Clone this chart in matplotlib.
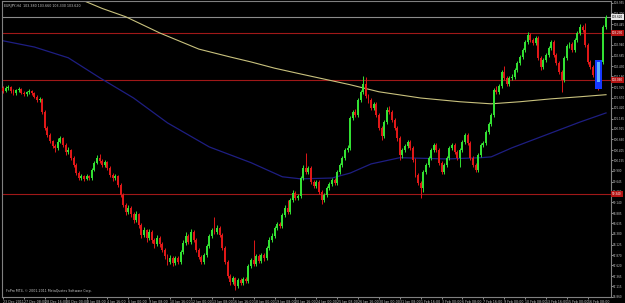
import matplotlib.pyplot as plt
from matplotlib.patches import Rectangle

symbol = "EURJPY,H4"
copyright_text = "FxPro MT4, \u00a9 2001-2011 MetaQuotes Software Corp."

# H4 bars, open of each bar = close of the one before
first_open = 101.90
closes = [
    101.83, 101.90, 101.92, 101.83, 101.78, 101.85, 101.88, 101.78, 101.75, 101.80,
    101.83, 101.78, 101.68, 101.61, 101.63, 101.32, 100.94, 100.77, 100.63, 100.51,
    100.46, 100.60, 100.70, 100.53, 100.36, 100.41, 100.22, 100.05, 99.85, 99.73,
    99.78, 99.71, 99.78, 99.73, 99.92, 100.10, 100.22, 100.15, 100.05, 100.12,
    99.97, 99.80, 99.73, 99.78, 99.56, 99.32, 99.08, 98.91, 99.01, 98.86,
    98.72, 98.86, 98.60, 98.36, 98.48, 98.29, 98.43, 98.24, 98.14, 98.29,
    98.14, 97.99, 97.85, 97.70, 97.80, 97.68, 97.80, 97.70, 97.94, 98.17,
    98.34, 98.19, 98.43, 98.24, 97.99, 97.82, 97.70, 97.87, 98.10, 98.34,
    98.48, 98.43, 98.53, 98.36, 98.05, 97.70, 97.37, 97.22, 97.32, 97.13,
    97.27, 97.20, 97.29, 97.25, 97.61, 97.75, 97.66, 97.85, 97.73, 97.87,
    97.80, 98.05, 98.24, 98.34, 98.53, 98.62, 98.58, 98.84, 99.01, 98.91,
    99.20, 99.37, 99.25, 99.30, 99.73, 99.97, 99.87, 99.97, 99.63, 99.54,
    99.63, 99.39, 99.20, 99.32, 99.49, 99.58, 99.68, 99.61, 99.87, 100.05,
    100.22, 100.41, 100.46, 101.18, 101.32, 101.25, 101.61, 101.80, 102.00, 101.71,
    101.61, 101.42, 101.52, 101.25, 100.94, 100.75, 101.08, 101.37, 101.32, 101.13,
    100.94, 100.70, 100.29, 100.41, 100.51, 100.60, 100.46, 100.17, 99.80, 99.61,
    99.49, 99.87, 100.05, 100.22, 100.41, 100.53, 100.41, 100.10, 99.87, 100.05,
    100.22, 100.46, 100.53, 100.36, 100.22, 100.41, 100.60, 100.77, 100.58, 100.22,
    100.05, 99.92, 100.29, 100.53, 100.58, 100.84, 101.04, 101.25, 101.85, 101.80,
    101.95, 102.29, 102.15, 102.00, 102.15, 102.17, 102.34, 102.51, 102.65, 102.82,
    103.01, 103.18, 103.06, 102.99, 103.11, 102.63, 102.41, 102.58, 102.70, 102.87,
    103.01, 102.70, 102.51, 102.29, 102.10, 102.63, 102.92, 102.97, 102.82, 103.06,
    103.23, 103.38, 103.30, 102.94, 102.53, 102.41, 102.22, 102.10, 101.95, 102.53,
    103.38, 103.62,
]
highs = [
    101.95, 101.95, 101.97, 101.95, 101.88, 101.88, 101.92, 101.90, 101.83, 101.83,
    101.88, 101.85, 101.80, 101.73, 101.68, 101.66, 101.37, 100.99, 100.82, 100.65,
    100.55, 100.70, 100.75, 100.72, 100.58, 100.48, 100.43, 100.27, 100.10, 99.90,
    99.83, 99.80, 99.83, 99.80, 99.97, 100.15, 100.29, 100.31, 100.19, 100.17,
    100.15, 100.02, 99.85, 99.83, 99.80, 99.61, 99.37, 99.13, 99.08, 99.06,
    98.91, 98.94, 98.89, 98.65, 98.55, 98.50, 98.50, 98.48, 98.29, 98.36,
    98.34, 98.19, 98.05, 97.90, 97.87, 97.85, 97.85, 97.85, 97.99, 98.24,
    98.43, 98.38, 98.50, 98.48, 98.29, 98.05, 97.87, 97.92, 98.14, 98.38,
    98.53, 98.79, 98.60, 98.58, 98.41, 98.10, 97.75, 97.42, 97.37, 97.35,
    97.32, 97.32, 97.35, 97.35, 97.66, 97.80, 98.24, 97.90, 97.90, 97.92,
    97.92, 98.10, 98.31, 98.41, 98.58, 98.67, 98.67, 98.89, 99.08, 99.20,
    99.25, 99.44, 99.42, 99.35, 99.78, 100.05, 100.34, 100.02, 100.02, 99.68,
    99.68, 99.68, 99.44, 99.37, 99.54, 99.63, 99.73, 99.73, 99.92, 100.10,
    100.27, 100.46, 100.53, 101.23, 101.37, 101.40, 101.66, 101.85, 102.19, 102.17,
    101.76, 101.66, 101.56, 101.56, 101.30, 100.99, 101.13, 101.44, 101.47, 101.37,
    101.18, 100.99, 100.75, 100.46, 100.55, 100.65, 100.65, 100.51, 100.22, 99.85,
    99.66, 99.92, 100.10, 100.27, 100.46, 100.58, 100.58, 100.46, 100.15, 100.10,
    100.27, 100.51, 100.58, 100.58, 100.41, 100.46, 100.65, 100.82, 100.82, 100.63,
    100.27, 100.10, 100.34, 100.58, 100.63, 100.89, 101.08, 101.30, 101.90, 101.95,
    102.00, 102.34, 102.43, 102.19, 102.19, 102.24, 102.38, 102.55, 102.70, 102.87,
    103.06, 103.25, 103.23, 103.11, 103.16, 103.16, 102.68, 102.63, 102.75, 102.92,
    103.06, 103.06, 102.75, 102.55, 102.34, 102.68, 102.97, 103.01, 103.01, 103.11,
    103.28, 103.45, 103.42, 103.47, 102.99, 102.58, 102.46, 102.27, 102.15, 102.58,
    103.42, 103.66,
]
lows = [
    101.78, 101.80, 101.85, 101.78, 101.73, 101.73, 101.80, 101.75, 101.71, 101.71,
    101.75, 101.73, 101.66, 101.56, 101.56, 101.28, 100.89, 100.72, 100.58, 100.46,
    100.36, 100.41, 100.58, 100.48, 100.29, 100.31, 100.17, 100.00, 99.80, 99.68,
    99.68, 99.66, 99.68, 99.68, 99.68, 99.90, 100.07, 100.10, 100.00, 100.00,
    99.92, 99.76, 99.66, 99.68, 99.52, 99.27, 99.03, 98.84, 98.86, 98.79,
    98.65, 98.67, 98.53, 98.29, 98.31, 98.19, 98.24, 98.17, 98.05, 98.10,
    98.07, 97.95, 97.78, 97.63, 97.66, 97.61, 97.63, 97.66, 97.66, 97.90,
    98.12, 98.14, 98.14, 98.19, 97.95, 97.78, 97.66, 97.66, 97.82, 98.05,
    98.29, 98.38, 98.38, 98.31, 97.99, 97.66, 97.32, 97.15, 97.18, 97.03,
    97.08, 97.15, 97.15, 97.20, 97.20, 97.56, 97.61, 97.61, 97.68, 97.68,
    97.73, 97.75, 97.99, 98.19, 98.29, 98.48, 98.53, 98.53, 98.79, 98.86,
    98.86, 99.15, 99.20, 99.20, 99.25, 99.68, 99.83, 99.83, 99.59, 99.49,
    99.49, 99.35, 99.10, 99.15, 99.27, 99.44, 99.54, 99.56, 99.56, 99.83,
    100.00, 100.17, 100.36, 100.41, 101.13, 101.20, 101.20, 101.56, 101.76, 101.66,
    101.54, 101.37, 101.37, 101.20, 100.89, 100.65, 100.70, 101.04, 101.28, 101.08,
    100.89, 100.63, 100.17, 100.22, 100.36, 100.46, 100.41, 100.12, 99.76, 99.56,
    99.25, 99.40, 99.83, 100.00, 100.17, 100.36, 100.36, 100.05, 99.83, 99.83,
    100.00, 100.17, 100.41, 100.31, 100.17, 100.00, 100.36, 100.55, 100.53, 100.17,
    100.00, 99.88, 99.88, 100.24, 100.48, 100.53, 100.80, 100.99, 101.20, 101.76,
    101.76, 101.90, 102.10, 101.95, 101.95, 102.10, 102.12, 102.29, 102.46, 102.60,
    102.77, 102.97, 103.01, 102.94, 102.94, 102.58, 102.34, 102.36, 102.53, 102.65,
    102.82, 102.65, 102.46, 102.24, 101.80, 102.05, 102.58, 102.87, 102.77, 102.77,
    103.01, 103.18, 103.25, 102.89, 102.48, 102.36, 102.17, 102.05, 101.85, 101.90,
    102.48, 103.33,
]

# moving averages, read at a few bars
ma_slow_bars = [14, 30, 38, 47, 60, 75, 87, 95, 104, 114, 133, 144, 160, 175, 187,
                198, 210, 221, 231]
ma_slow = [104.51, 104.03, 103.82, 103.62, 103.23, 102.84, 102.65, 102.53, 102.38,
           102.24, 101.98, 101.81, 101.66, 101.57, 101.52, 101.57, 101.64, 101.69, 101.74]
ma_fast_bars = [0, 12, 25, 37, 50, 63, 79, 95, 107, 114, 126, 133, 141, 152, 170,
                183, 187, 195, 208, 221, 231]
ma_fast = [103.04, 102.89, 102.63, 102.15, 101.66, 101.06, 100.48, 100.10, 99.76,
           99.71, 99.73, 99.85, 100.07, 100.22, 100.19, 100.22, 100.24, 100.46,
           100.77, 101.08, 101.30]

levels = [103.23, 102.09, 99.34]

# blue marked block near the end
mark_bars = [226.6, 229.4]
mark_prices = [101.87, 102.58]
mark_inner = [102.05, 102.53]

price_labels = ["96.860", "97.115", "97.365", "97.620", "97.870", "98.125", "98.380",
                "98.635", "98.885", "99.140", "99.395", "99.645", "99.900", "100.155",
                "100.405", "100.660", "100.915", "101.165", "101.420", "101.670",
                "101.925", "102.180", "102.430", "102.685", "102.940", "103.190",
                "103.445", "103.700", "103.955"]
time_labels = ["23 Dec 2011", "27 Dec 08:00", "28 Dec 16:00", "30 Dec 00:00", "3 Jan 08:00",
               "4 Jan 16:00", "6 Jan 00:00", "9 Jan 08:00", "10 Jan 16:00", "12 Jan 00:00",
               "13 Jan 08:00", "16 Jan 16:00", "18 Jan 00:00", "19 Jan 08:00", "20 Jan 16:00",
               "24 Jan 00:00", "25 Jan 08:00", "26 Jan 16:00", "30 Jan 00:00", "31 Jan 08:00",
               "1 Feb 16:00", "3 Feb 00:00", "6 Feb 08:00", "7 Feb 16:00", "9 Feb 00:00",
               "10 Feb 08:00", "13 Feb 16:00", "15 Feb 00:00", "16 Feb 08:00"]

BULL = '#33e033'
BEAR = '#e01818'
FG = '#c8c8c8'
FS = 2.3
FS_Y = 2.0

opens = [first_open] + closes[:-1]
n = len(closes)
idx = list(range(n))

fig = plt.figure(figsize=(6.25, 3.03), dpi=100, facecolor='black')
ax = fig.add_axes([2 / 625, 6 / 303, 609 / 625, 296 / 303])
ax.set_facecolor('black')

ax.plot(ma_slow_bars, ma_slow, color='#c9c27e', lw=0.8, zorder=2)
ax.plot(ma_fast_bars, ma_fast, color='#1e1e82', lw=0.9, zorder=2)

for lv in levels:
    ax.axhline(lv, color='#a01818', lw=0.8, zorder=1)
ax.axhline(closes[-1], color='#8c8c8c', lw=0.8, zorder=1)

cols = [BULL if c >= o else BEAR for o, c in zip(opens, closes)]
ax.vlines(idx, lows, highs, colors=cols, lw=0.7, zorder=3)
bottoms = [min(o, c) for o, c in zip(opens, closes)]
heights = [max(abs(c - o), 0.012) for o, c in zip(opens, closes)]
ax.bar(idx, heights, bottom=bottoms, width=0.75, color=cols, linewidth=0, zorder=4)

ax.add_patch(Rectangle((mark_bars[0], mark_prices[0]), mark_bars[1] - mark_bars[0],
                       mark_prices[1] - mark_prices[0], facecolor='#1638ff',
                       edgecolor='none', zorder=5))
ax.add_patch(Rectangle((mark_bars[0] + 0.9, mark_inner[0]), 1.0,
                       mark_inner[1] - mark_inner[0], facecolor='#5fb0ff',
                       edgecolor='none', zorder=6))

ax.set_xlim(-0.4, 232.9)
ax.set_ylim(96.86, 104.00)

ax.set_yticks([float(s) for s in price_labels], labels=price_labels)
ax.set_xticks(list(range(0, 8 * len(time_labels), 8)), labels=time_labels)
for t in ax.get_xticklabels():
    t.set_horizontalalignment('left')
ax.yaxis.tick_right()
ax.tick_params(axis='y', length=1.2, width=0.5, colors=FG, labelsize=FS_Y, pad=0.5)
ax.tick_params(axis='x', length=1.5, width=0.5, colors=FG, labelsize=FS, pad=0.5)
for s in ax.spines.values():
    s.set_color('#808080')
    s.set_linewidth(0.8)

# boxed labels on the price scale
for lv in levels:
    ax.text(1.002, lv, f"{lv:.3f}", transform=ax.get_yaxis_transform(), fontsize=FS_Y,
            color='white', va='center', ha='left', clip_on=False, zorder=10,
            bbox=dict(boxstyle='square,pad=0.3', facecolor='#b41414', edgecolor='none'))
ax.text(1.002, closes[-1], f"{closes[-1]:.3f}", transform=ax.get_yaxis_transform(),
        fontsize=FS_Y, color='black', va='center', ha='left', clip_on=False, zorder=10,
        bbox=dict(boxstyle='square,pad=0.3', facecolor='#e8e8e8', edgecolor='none'))

title = f"{symbol}  {opens[-1]:.3f} {highs[-1]:.3f} {lows[-1]:.3f} {closes[-1]:.3f}"
ax.text(0.003, 0.99, title, transform=ax.transAxes, fontsize=FS, color=FG,
        va='top', ha='left', zorder=10)
ax.text(0.006, 0.014, copyright_text, transform=ax.transAxes, fontsize=FS,
        color=FG, va='bottom', ha='left', zorder=10)

fig.savefig("out.png", dpi=100, facecolor='black')
